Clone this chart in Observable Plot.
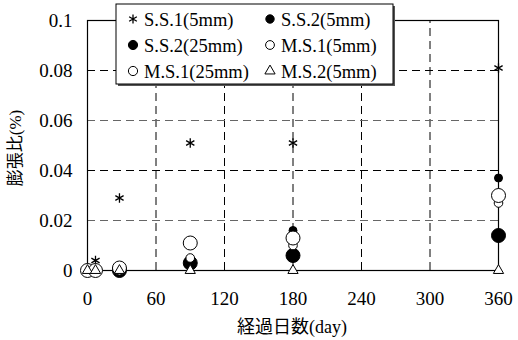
<!DOCTYPE html>
<html><head><meta charset="utf-8">
<script src="https://cdn.jsdelivr.net/npm/d3@7"></script>
<script src="https://cdn.jsdelivr.net/npm/@observablehq/plot@0.6"></script>
<style>body{margin:0;background:#fff;}</style>
</head><body><div id="chart"></div>
<script>
// ---- data ----
const days = [0, 7, 28, 90, 180, 360];
const seriesNames = ["S.S.1(5mm)", "S.S.2(5mm)", "S.S.2(25mm)", "M.S.1(5mm)", "M.S.1(25mm)", "M.S.2(5mm)"];
const ss1_5  = [null, 0.004, 0.029, 0.051, 0.051, 0.081];
const ss2_5  = [null, null, 0, 0.004, 0.016, 0.037];
const ss2_25 = [null, null, 0, 0.003, 0.006, 0.014];
const ms1_5  = [0, 0, 0.001, 0.005, 0.010, 0.027];
const ms1_25 = [0, 0, 0.001, 0.011, 0.013, 0.030];
const ms2_5  = [0, 0, 0, 0, 0, 0];
const xTicks = [0, 60, 120, 180, 240, 300, 360];
const yTicks = [0, 0.02, 0.04, 0.06, 0.08, 0.1];
const xLabel = "経過日数(day)";
const yLabel = "膨張比(%)";

const values = [ss1_5, ss2_5, ss2_25, ms1_5, ms1_25, ms2_5];
const styles = [
  {symbol: "asterisk", r: 4.5, fill: "none", stroke: "#000", sw: 1.3},
  {symbol: "circle",   r: 4,   fill: "#000", stroke: "#000", sw: 1},
  {symbol: "circle",   r: 7,   fill: "#000", stroke: "#000", sw: 1},
  {symbol: "circle",   r: 4.3, fill: "#fff", stroke: "#000", sw: 1},
  {symbol: "circle",   r: 7,   fill: "#fff", stroke: "#000", sw: 1},
  {symbol: "triangle", r: 3.8, fill: "#fff", stroke: "#000", sw: 1}
];
const legendR = [4.2, 4.2, 4.6, 4.4, 4.6, 3.8];

const rows = seriesNames.map((name, i) =>
  days.map((d, j) => ({series: name, day: d, value: values[i][j]})).filter(r => r.value != null));

const FONT = "'Liberation Serif', 'Noto Sans CJK JP', serif";

const plot = Plot.plot({
  width: 518, height: 340,
  marginLeft: 87, marginRight: 20, marginTop: 20, marginBottom: 70,
  style: {fontFamily: FONT, fontSize: "19px", color: "#000", background: "#fff", overflow: "visible"},
  x: {domain: [0, 360]},
  y: {domain: [0, 0.1]},
  marks: [
    Plot.ruleX(xTicks.slice(1, -1), {y1: 0, y2: 0.1, stroke: "#000", strokeDasharray: "8,5", strokeWidth: 1}),
    Plot.ruleY(yTicks.slice(1, -1), {x1: 0, x2: 360, stroke: d => (Math.round(d * 100) % 4 === 0 ? "#000" : "#666"), strokeDasharray: "8,5", strokeWidth: 1}),
    Plot.frame({stroke: "#000", strokeWidth: 1.2}),
    Plot.axisX(xTicks, {tickSize: 0, tickPadding: 21, label: null, fontSize: 19}),
    Plot.axisY(yTicks, {tickSize: 0, tickPadding: 15, label: null, fontSize: 19,
      tickFormat: d => d === 0 ? "0" : String(d)}),
    ...rows.map((data, i) => Plot.dot(data, {
      x: "day", y: "value", symbol: () => styles[i].symbol, r: styles[i].r,
      fill: styles[i].fill, stroke: styles[i].stroke, strokeWidth: styles[i].sw
    }))
  ]
});

document.getElementById("chart").appendChild(plot);
const svg = d3.select(plot);

// axis titles
svg.append("text")
  .attr("x", 292).attr("y", 333)
  .style("text-anchor", "middle")
  .style("font-family", FONT).style("font-size", "18px").style("fill", "#000")
  .text(xLabel);
svg.append("text")
  .attr("transform", "translate(21,148) rotate(-90)")
  .style("text-anchor", "middle")
  .style("font-family", FONT).style("font-size", "17px").style("fill", "#000")
  .text(yLabel);

// legend
const lg = svg.append("g");
const L = {x: 116, y: 4, w: 277, h: 80};
lg.append("rect").attr("x", L.x + 2).attr("y", L.y + 2).attr("width", L.w).attr("height", L.h)
  .style("fill", "#555").style("stroke", "none");
lg.append("rect").attr("x", L.x).attr("y", L.y).attr("width", L.w).attr("height", L.h)
  .style("fill", "#fff").style("stroke", "#000").style("stroke-width", "1");
const symType = {asterisk: d3.symbolAsterisk, circle: d3.symbolCircle, triangle: d3.symbolTriangle};
seriesNames.forEach((name, i) => {
  const col = i % 2, row = Math.floor(i / 2);
  const mx = col === 0 ? 133 : 270;
  const my = 19 + row * 26;
  const s = styles[i];
  lg.append("path")
    .attr("transform", `translate(${mx},${my})`)
    .attr("d", d3.symbol(symType[s.symbol], Math.PI * legendR[i] * legendR[i])())
    .style("fill", s.fill).style("stroke", s.stroke).style("stroke-width", String(s.sw));
  lg.append("text")
    .attr("x", mx + 11).attr("y", my + 6.5)
    .style("text-anchor", "start")
    .style("font-family", FONT).style("font-size", "18.5px").style("fill", "#000")
    .text(name);
});
</script>
</body></html>
